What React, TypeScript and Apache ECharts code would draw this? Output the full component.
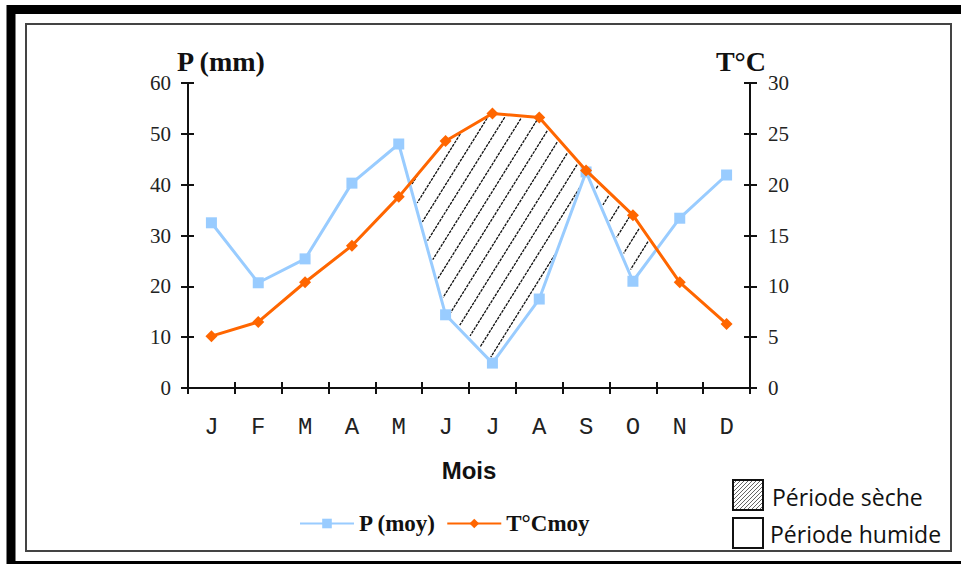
import React, { useEffect, useRef } from "react";
import * as echarts from "echarts";

const months = ["J", "F", "M", "A", "M", "J", "J", "A", "S", "O", "N", "D"];
const precip = [32.5, 20.7, 25.4, 40.3, 48.0, 14.4, 4.9, 17.5, 42.5, 21.0, 33.4, 41.9];
const temp = [5.1, 6.5, 10.4, 14.0, 18.8, 24.3, 27.0, 26.6, 21.4, 17.0, 10.4, 6.3];
const pAxis = { min: 0, max: 60, interval: 10 };
const tAxis = { min: 0, max: 30, interval: 5 };
const seriesNames = ["P (moy)", "T°Cmoy"];
const periodLabels = ["Période sèche", "Période humide"];

type Pt = number[];

function hatchPolygon(poly: Pt[], k: number, s: number, out: any[]) {
  const cs = poly.map((p) => p[0] + p[1] / k);
  const cmin = Math.min(...cs);
  const cmax = Math.max(...cs);
  for (let c = Math.ceil(cmin / s) * s; c <= cmax; c += s) {
    const hits: Pt[] = [];
    for (let j = 0; j < poly.length; j++) {
      const p1 = poly[j];
      const p2 = poly[(j + 1) % poly.length];
      const a = p1[0] + p1[1] / k - c;
      const b = p2[0] + p2[1] / k - c;
      if ((a < 0) !== (b < 0)) {
        const t = a / (a - b);
        hits.push([p1[0] + (p2[0] - p1[0]) * t, p1[1] + (p2[1] - p1[1]) * t]);
      }
    }
    hits.sort((u, v) => u[1] - v[1]);
    for (let h = 0; h + 1 < hits.length; h += 2) {
      const A = hits[h];
      const B = hits[h + 1];
      const len = Math.hypot(B[0] - A[0], B[1] - A[1]);
      if (len < 6) continue;
      const g = 3 / len;
      out.push({
        type: "line",
        shape: {
          x1: A[0] + (B[0] - A[0]) * g,
          y1: A[1] + (B[1] - A[1]) * g,
          x2: B[0] - (B[0] - A[0]) * g,
          y2: B[1] - (B[1] - A[1]) * g,
        },
        style: { stroke: "#111", lineWidth: 1.3, lineDash: [3, 1] },
        silent: true,
      });
    }
  }
}

function renderHatch(params: any, api: any) {
  const n = precip.length;
  const P = precip.map((v, i) => api.coord([i, v]));
  const T = temp.map((v, i) => api.coord([i, v * 2]));
  const d = precip.map((v, i) => temp[i] * 2 - v);
  const polys: Pt[][] = [];
  let upper: Pt[] | null = null;
  let lower: Pt[] = [];
  for (let i = 0; i < n; i++) {
    if (d[i] > 0) {
      if (!upper) {
        upper = [];
        lower = [];
      }
      upper.push(T[i]);
      lower.push(P[i]);
    }
    if (i < n - 1 && (d[i] > 0) !== (d[i + 1] > 0)) {
      const t = d[i] / (d[i] - d[i + 1]);
      const pt = [P[i][0] + (P[i + 1][0] - P[i][0]) * t, P[i][1] + (P[i + 1][1] - P[i][1]) * t];
      if (d[i] <= 0) {
        upper = [pt];
        lower = [];
      } else if (upper) {
        upper.push(pt);
        polys.push(upper.concat(lower.slice().reverse()));
        upper = null;
      }
    }
  }
  if (upper) polys.push(upper.concat(lower.slice().reverse()));
  const children: any[] = [];
  polys.forEach((poly) => hatchPolygon(poly, 1.6, 17, children));
  return { type: "group", children };
}

function legendBoxHatch(x: number, y: number, size: number) {
  const els: any[] = [];
  const step = 4;
  for (let c = step; c < size * 2; c += step) {
    const x1 = Math.max(0, c - size);
    const y1 = c - x1;
    const x2 = Math.min(size, c);
    const y2 = c - x2;
    els.push({
      type: "line",
      shape: { x1: x + x1, y1: y + y1, x2: x + x2, y2: y + y2 },
      style: { stroke: "#666", lineWidth: 1 },
      silent: true,
    });
  }
  return els;
}

export default function App() {
  const ref = useRef<HTMLDivElement>(null);
  useEffect(() => {
    if (!ref.current) return;
    const chart = echarts.init(ref.current, undefined, { renderer: "svg" });
    const axisLine = { show: true, lineStyle: { color: "#111", width: 2 } };
    const tickLabel = { fontFamily: "Liberation Serif", fontSize: 21, color: "#222" };
    const option: any = {
      animation: false,
      backgroundColor: "#fff",
      grid: { left: 188, right: 211, top: 83, bottom: 176, containLabel: false },
      legend: {
        data: seriesNames,
        left: 294,
        top: 507,
        itemWidth: 54,
        itemHeight: 12,
        itemGap: 10,
        textStyle: { fontFamily: "Liberation Serif", fontWeight: "bold", fontSize: 23, color: "#111" },
      },
      xAxis: [
        {
          type: "category",
          data: months,
          boundaryGap: true,
          axisLine,
          axisTick: { show: true, length: 6, lineStyle: { color: "#111", width: 2 } },
          axisLabel: { fontFamily: "Liberation Mono", fontSize: 24, color: "#222", margin: 27 },
          splitLine: { show: false },
          name: "Mois",
          nameLocation: "middle",
          nameGap: 70,
          nameTextStyle: { fontFamily: "Liberation Sans Narrow, Liberation Sans", fontWeight: "bold", fontSize: 24, color: "#111" },
        },
        {
          type: "category",
          data: months,
          position: "bottom",
          boundaryGap: true,
          axisLine,
          axisTick: { show: true, inside: true, length: 6, lineStyle: { color: "#111", width: 2 } },
          axisLabel: { show: false },
          splitLine: { show: false },
        },
      ],
      yAxis: [
        {
          type: "value",
          position: "left",
          ...pAxis,
          axisLine,
          axisTick: { show: true, length: 7, lineStyle: { color: "#111", width: 2 } },
          axisLabel: { ...tickLabel, margin: 17 },
          splitLine: { show: false },
        },
        {
          type: "value",
          position: "right",
          ...tAxis,
          axisLine,
          axisTick: { show: true, length: 7, lineStyle: { color: "#111", width: 2 } },
          axisLabel: { ...tickLabel, margin: 18 },
          splitLine: { show: false },
        },
        {
          type: "value",
          position: "left",
          ...pAxis,
          axisLine,
          axisTick: { show: true, inside: true, length: 6, lineStyle: { color: "#111", width: 2 } },
          axisLabel: { show: false },
          splitLine: { show: false },
        },
        {
          type: "value",
          position: "right",
          ...tAxis,
          axisLine,
          axisTick: { show: true, inside: true, length: 6, lineStyle: { color: "#111", width: 2 } },
          axisLabel: { show: false },
          splitLine: { show: false },
        },
      ],
      series: [
        {
          type: "custom",
          name: "hatch",
          xAxisIndex: 0,
          yAxisIndex: 0,
          data: [[0, 0]],
          renderItem: renderHatch,
          clip: false,
          silent: true,
          z: 1,
        },
        {
          type: "line",
          name: seriesNames[0],
          xAxisIndex: 0,
          yAxisIndex: 0,
          data: precip,
          color: "#99CCFF",
          symbol: "rect",
          symbolSize: 11,
          lineStyle: { width: 3, color: "#99CCFF" },
          itemStyle: { color: "#99CCFF" },
          z: 3,
        },
        {
          type: "line",
          name: seriesNames[1],
          xAxisIndex: 0,
          yAxisIndex: 1,
          data: temp,
          color: "#FF6600",
          symbol: "diamond",
          symbolSize: 12,
          lineStyle: { width: 3, color: "#FF6600" },
          itemStyle: { color: "#FF6600" },
          z: 4,
        },
      ],
      graphic: [
        {
          type: "rect",
          shape: { x: 11, y: 9.5, width: 960, height: 556 },
          style: { fill: "none", stroke: "#000", lineWidth: 9 },
          silent: true,
        },
        {
          type: "rect",
          shape: { x: 26, y: 24, width: 925, height: 527 },
          style: { fill: "none", stroke: "#444", lineWidth: 2 },
          silent: true,
        },
        {
          type: "text",
          x: 177,
          y: 61,
          style: { text: "P (mm)", fontFamily: "Liberation Serif", fontWeight: "bold", fontSize: 28, fill: "#111", verticalAlign: "middle", align: "left" },
        },
        {
          type: "text",
          x: 766,
          y: 61,
          style: { text: "T°C", fontFamily: "Liberation Serif", fontWeight: "bold", fontSize: 28, fill: "#111", verticalAlign: "middle", align: "right" },
        },
        ...legendBoxHatch(733, 480, 30),
        {
          type: "rect",
          shape: { x: 733, y: 480, width: 30, height: 30 },
          style: { fill: "none", stroke: "#111", lineWidth: 2 },
          silent: true,
        },
        {
          type: "rect",
          shape: { x: 733, y: 518, width: 30, height: 30 },
          style: { fill: "#fff", stroke: "#111", lineWidth: 2 },
          silent: true,
        },
        {
          type: "text",
          x: 772,
          y: 497,
          style: { text: periodLabels[0], fontFamily: "Open Sans", fontSize: 23, fill: "#111", verticalAlign: "middle", align: "left" },
        },
        {
          type: "text",
          x: 770,
          y: 534,
          style: { text: periodLabels[1], fontFamily: "Open Sans", fontSize: 23, fill: "#111", verticalAlign: "middle", align: "left" },
        },
      ],
    };
    chart.setOption(option);
    return () => chart.dispose();
  }, []);
  return (
    <div
      ref={ref}
      style={{ position: "fixed", left: 0, top: 0, width: 961, height: 564, background: "#fff" }}
    />
  );
}
